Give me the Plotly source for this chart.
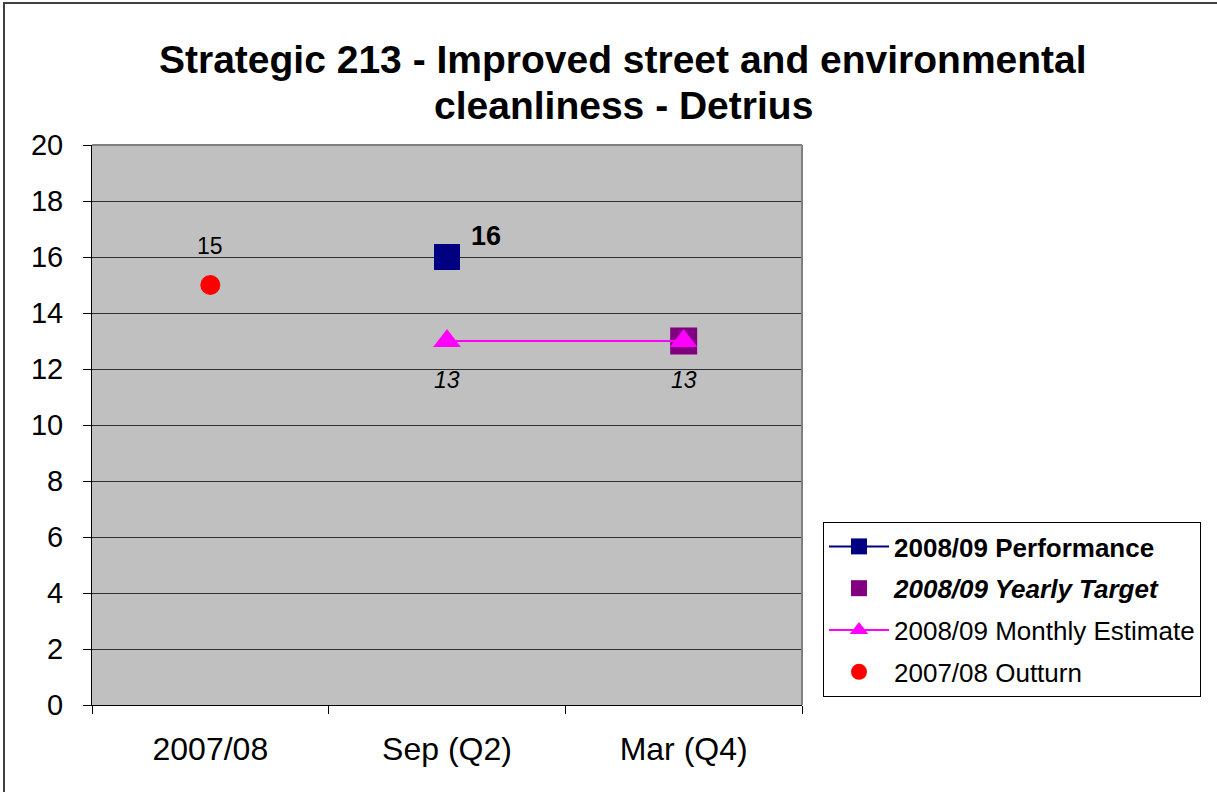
import plotly.graph_objects as go

categories = ["2007/08", "Sep (Q2)", "Mar (Q4)"]
outturn_x = ["2007/08"]
outturn_y = [15]
perf_x = ["Sep (Q2)"]
perf_y = [16]
target_x = ["Mar (Q4)"]
target_y = [13]
estimate_x = ["Sep (Q2)", "Mar (Q4)"]
estimate_y = [13, 13]
y_ticks = [0, 2, 4, 6, 8, 10, 12, 14, 16, 18, 20]
title_lines = ["Strategic 213 - Improved street and environmental", "cleanliness - Detrius"]

FONT = "Liberation Sans, Arial, sans-serif"

fig = go.Figure()

fig.add_trace(go.Scatter(
    x=outturn_x, y=outturn_y, mode="markers", name="2007/08 Outturn",
    marker=dict(symbol="circle", size=20, color="#FF0000"),
    legendrank=4, legendgroup="d"))
fig.add_trace(go.Scatter(
    x=perf_x, y=perf_y, mode="lines+markers", name="<b>2008/09 Performance</b>",
    line=dict(color="#000080", width=2),
    marker=dict(symbol="square", size=26, color="#000080"),
    legendrank=1, legendgroup="a"))
fig.add_trace(go.Scatter(
    x=target_x, y=target_y, mode="markers", name="<b><i>2008/09 Yearly Target</i></b>",
    marker=dict(symbol="square", size=27, color="#800080"),
    legendrank=2, legendgroup="b"))
fig.add_trace(go.Scatter(
    x=estimate_x, y=estimate_y, mode="lines+markers", name="2008/09 Monthly Estimate",
    line=dict(color="#FF00FF", width=2),
    marker=dict(symbol="triangle-up", size=24, color="#FF00FF"),
    legendrank=3, legendgroup="c"))

L, R, T, B = 92, 1217 - 802, 145, 792 - 705
W, H = 1217 - L - R, 792 - T - B


def px2x(px):
    return (px - L) / W


def py2y(py):
    return (792 - B - py) / H


annotations = []
for x, y in zip(outturn_x, outturn_y):
    annotations.append(dict(x=x, y=y, xref="x", yref="y", text=str(y), showarrow=False,
                            yshift=39, font=dict(family=FONT, size=23, color="black")))
for x, y in zip(perf_x, perf_y):
    annotations.append(dict(x=x, y=y, xref="x", yref="y", text="<b>%d</b>" % y, showarrow=False,
                            xshift=39, yshift=21, font=dict(family=FONT, size=27, color="black")))
for x, y in zip(estimate_x, estimate_y):
    annotations.append(dict(x=x, y=y, xref="x", yref="y", text="<i>%d</i>" % y, showarrow=False,
                            yshift=-39, font=dict(family=FONT, size=23, color="black")))
for line, cy in zip(title_lines, [59, 105]):
    annotations.append(dict(x=px2x(623), y=py2y(cy), xref="paper", yref="paper",
                            text="<b>%s</b>" % line, showarrow=False,
                            xanchor="center", yanchor="middle",
                            font=dict(family=FONT, size=39, color="black")))

shapes = [
    dict(type="rect", xref="paper", yref="paper",
         x0=px2x(4), x1=px2x(1240), y0=py2y(810), y1=py2y(3),
         line=dict(color="#404040", width=2), fillcolor="rgba(0,0,0,0)", layer="below"),
    dict(type="line", xref="paper", yref="paper", x0=0, x1=1, y0=1, y1=1,
         line=dict(color="#808080", width=2)),
    dict(type="line", xref="paper", yref="paper", x0=1, x1=1, y0=0, y1=1,
         line=dict(color="#808080", width=2)),
]

fig.update_layout(
    width=1217, height=792,
    margin=dict(l=L, r=R, t=T, b=B),
    paper_bgcolor="white", plot_bgcolor="#C0C0C0",
    font=dict(family=FONT, color="black"),
    showlegend=True,
    legend=dict(x=px2x(823), y=py2y(522), xanchor="left", yanchor="top",
                bgcolor="white", bordercolor="black", borderwidth=1,
                font=dict(family=FONT, size=26, color="black"),
                tracegroupgap=5, itemwidth=60, traceorder="grouped"),
    annotations=annotations,
    shapes=shapes,
    xaxis=dict(type="category", categoryorder="array", categoryarray=categories,
               range=[-0.5, 2.5], showgrid=False, zeroline=False,
               showline=True, linecolor="black", linewidth=1,
               ticks="outside", tickson="boundaries", ticklen=8, tickcolor="black",
               tickfont=dict(family=FONT, size=32, color="black"), ticklabelstandoff=16),
    yaxis=dict(range=[0, 20], tickvals=y_ticks, showgrid=True, gridcolor="#303030", gridwidth=1,
               zeroline=False, showline=True, linecolor="black", linewidth=1,
               ticks="outside", ticklen=8, tickcolor="black",
               tickfont=dict(family=FONT, size=29, color="black"), ticklabelstandoff=14),
)

fig.write_html("out.html", config={"displayModeBar": False},
               post_script="document.body.style.margin='0';")
